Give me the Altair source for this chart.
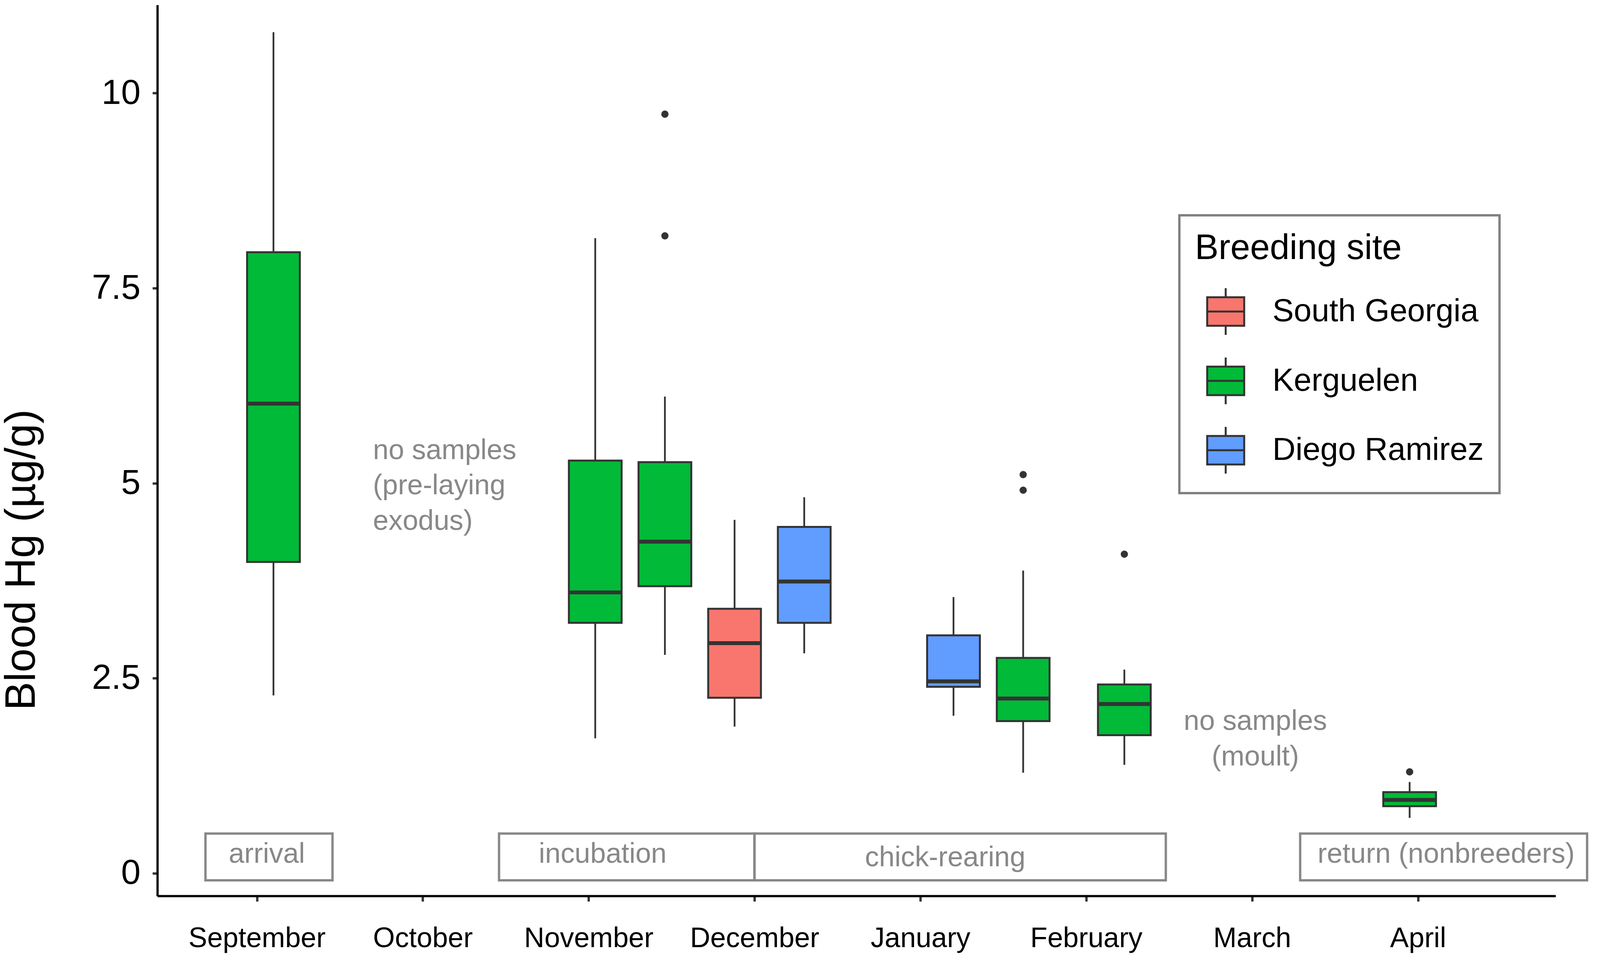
import altair as alt
import pandas as pd

# ---------------- data ----------------
months = ["September", "October", "November", "December", "January", "February", "March", "April"]
month_pos = [1, 2, 3, 4, 5, 6, 7, 8]

sites = ["South Georgia", "Kerguelen", "Diego Ramirez"]
site_colors = ["#F8766D", "#00BA38", "#619CFF"]

box_site = ["Kerguelen", "Kerguelen", "Kerguelen", "South Georgia", "Diego Ramirez",
            "Diego Ramirez", "Kerguelen", "Kerguelen", "Kerguelen"]
box_x = [1.10, 3.04, 3.46, 3.88, 4.30, 5.20, 5.62, 6.23, 7.95]
whisk_lo = [2.28, 1.73, 2.80, 1.88, 2.82, 2.02, 1.29, 1.39, 0.71]
q1 = [3.99, 3.21, 3.68, 2.25, 3.21, 2.39, 1.95, 1.77, 0.86]
med = [6.02, 3.60, 4.25, 2.95, 3.74, 2.46, 2.24, 2.17, 0.94]
q3 = [7.96, 5.29, 5.27, 3.39, 4.44, 3.05, 2.76, 2.42, 1.04]
whisk_hi = [10.78, 8.14, 6.11, 4.53, 4.82, 3.54, 3.88, 2.61, 1.17]

out_x = [3.46, 3.46, 5.62, 5.62, 6.23, 7.95]
out_y = [9.73, 8.17, 5.11, 4.91, 4.09, 1.30]

phase_label = ["arrival", "incubation", "chick-rearing", "return (nonbreeders)"]
phase_x1 = [0.69, 2.46, 4.00, 7.29]
phase_x2 = [1.456, 4.00, 6.48, 9.02]
phase_y1 = [-0.09, -0.09, -0.09, -0.09]
phase_y2 = [0.51, 0.51, 0.51, 0.51]
phase_tx = [1.06, 3.085, 5.15, 8.17]
phase_ty = [0.135, 0.135, 0.09, 0.135]

note_text = ["no samples", "(pre-laying", "exodus)", "no samples", "(moult)"]
note_x = [1.70, 1.70, 1.70, 7.02, 7.02]
note_y = [5.31, 4.86, 4.40, 1.84, 1.38]
note_group = ["left", "left", "left", "center", "center"]

# ---------------- tables ----------------
boxes = pd.DataFrame({"site": box_site, "x": box_x, "lo": whisk_lo, "q1": q1,
                      "med": med, "q3": q3, "hi": whisk_hi})
outliers = pd.DataFrame({"x": out_x, "y": out_y})
phases = pd.DataFrame({"label": phase_label, "x1": phase_x1, "x2": phase_x2,
                       "y1": phase_y1, "y2": phase_y2, "tx": phase_tx, "ty": phase_ty})
notes = pd.DataFrame({"text": note_text, "x": note_x, "y": note_y, "g": note_group})

FONT = "Liberation Sans"
GREY = "#888888"
DARK = "#333333"
HALF = 0.159
ANN = 72

label_expr = "[" + ",".join("'%s'" % m for m in months) + "][datum.value - 1]"

x_scale = alt.Scale(domain=[0.4, 8.83], nice=False, zero=False)
y_scale = alt.Scale(domain=[-0.29, 11.13], nice=False, zero=False)

x_axis = alt.Axis(values=month_pos, labelExpr=label_expr, title=None, labelFontSize=72,
                  labelPadding=60, tickSize=14, labelLimit=2000, labelOverlap=False,
                  labelFlush=False)
y_axis = alt.Axis(values=[0, 2.5, 5, 7.5, 10], labelExpr="format(datum.value, '.3~g')",
                  title="Blood Hg (µg/g)", tickSize=12.6,
                  labelFontSize=90, labelPadding=31, labelLimit=2000,
                  titleFontSize=110, titleX=-292, titleY=1424)


def X(field):
    return alt.X(field, type="quantitative", scale=x_scale, axis=x_axis)


def Y(field):
    return alt.Y(field, type="quantitative", scale=y_scale, axis=y_axis)


legend_symbol = "M-1,-0.77H1V0.77H-1Z M-1,0H1 M0,-0.77V-1.26 M0,0.77V1.26"

phase_rect = alt.Chart(phases).mark_rect(fillOpacity=0, stroke=GREY, strokeWidth=6).encode(
    x=X("x1"), x2="x2", y=Y("y1"), y2="y2")

phase_text = alt.Chart(phases).mark_text(font=FONT, fontSize=ANN, color=GREY, align="center",
                                         baseline="alphabetic").encode(
    x=X("tx"), y=Y("ty"), text="label:N")

notes_left = alt.Chart(notes).transform_filter("datum.g == 'left'").mark_text(
    font=FONT, fontSize=ANN, color=GREY, align="left", baseline="alphabetic").encode(
    x=X("x"), y=Y("y"), text="text:N")

notes_center = alt.Chart(notes).transform_filter("datum.g == 'center'").mark_text(
    font=FONT, fontSize=ANN, color=GREY, align="center", baseline="alphabetic").encode(
    x=X("x"), y=Y("y"), text="text:N")

whiskers = alt.Chart(boxes).mark_rule(color=DARK, strokeWidth=4.5).encode(
    x=X("x"), y=Y("lo"), y2="hi")

box_rect = alt.Chart(boxes).transform_calculate(
    xl="datum.x - %f" % HALF, xr="datum.x + %f" % HALF
).mark_rect(stroke=DARK, strokeWidth=5).encode(
    x=X("xl"), x2="xr", y=Y("q1"), y2="q3",
    color=alt.Color("site:N", scale=alt.Scale(domain=sites, range=site_colors),
                    legend=alt.Legend(title="Breeding site", orient="none",
                                      legendX=2624, legendY=540,
                                      symbolType=legend_symbol, symbolSize=9025,
                                      symbolStrokeColor=DARK, symbolStrokeWidth=5,
                                      symbolOffset=29, labelOffset=70, rowPadding=38,
                                      labelFontSize=82, titleFontSize=91,
                                      titlePadding=66, labelLimit=2000, titleLimit=2000,
                                      padding=40, strokeColor="#808080")))

medians = alt.Chart(boxes).transform_calculate(
    xl="datum.x - %f" % HALF, xr="datum.x + %f" % HALF
).mark_rule(color=DARK, strokeWidth=10).encode(
    x=X("xl"), x2="xr", y=Y("med"))

points = alt.Chart(outliers).mark_circle(size=346, color=DARK, opacity=1).encode(
    x=X("x"), y=Y("y"))

chart = alt.layer(phase_rect, phase_text, notes_left, notes_center, whiskers, box_rect,
                  medians, points).properties(
    width=3590, height=2287, autosize="none",
    padding={"left": 396, "top": 1, "right": 106, "bottom": 158},
).configure_view(stroke=None).configure_axis(
    grid=False, domainColor="black", domainWidth=5.7, tickColor=DARK, tickWidth=6,
    labelColor="black", labelFont=FONT, titleFont=FONT, titleColor="black",
    titleFontWeight="normal"
).configure_legend(
    strokeWidth=6, labelFont=FONT, titleFont=FONT, labelColor="black", titleColor="black",
    titleFontWeight="normal"
)

chart.save("out.html", embed_options={"renderer": "svg", "actions": False})
